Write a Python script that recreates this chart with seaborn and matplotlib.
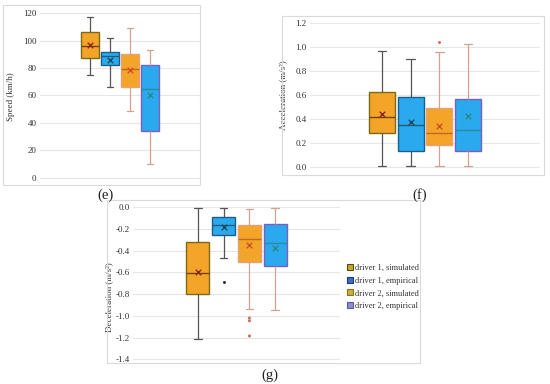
import numpy as np
import pandas as pd
import matplotlib
matplotlib.use("Agg")
import matplotlib.pyplot as plt
from matplotlib.lines import Line2D
from matplotlib.patches import Rectangle
import seaborn as sns

# Box summaries: [lower whisker, q1, median, q3, upper whisker]
groups = ["driver 1, simulated", "driver 1, empirical",
          "driver 2, simulated", "driver 2, empirical"]

speed_lo = [75, 66, 49, 10]
speed_q1 = [87, 82, 66, 34]
speed_med = [96, 89, 79, 65]
speed_q3 = [106.5, 92, 90, 82]
speed_hi = [117, 102, 109, 93]
speed_mean = [97, 86, 78.5, 60]
speed_out = [[], [], [], []]

acc_lo = [0.005, 0.01, 0.005, 0.01]
acc_q1 = [0.285, 0.135, 0.18, 0.13]
acc_med = [0.42, 0.35, 0.28, 0.31]
acc_q3 = [0.625, 0.585, 0.495, 0.565]
acc_hi = [0.97, 0.90, 0.96, 1.03]
acc_mean = [0.445, 0.375, 0.34, 0.425]
acc_out = [[], [], [1.04], []]

dec_lo = [-1.215, -0.465, -0.94, -0.945]
dec_q1 = [-0.795, -0.252, -0.50, -0.54]
dec_med = [-0.605, -0.16, -0.288, -0.332]
dec_q3 = [-0.317, -0.085, -0.163, -0.151]
dec_hi = [-0.005, -0.005, -0.02, -0.005]
dec_mean = [-0.595, -0.185, -0.348, -0.378]
dec_out = [[], [-0.685], [-1.02, -1.045, -1.185], []]

# styling per group
fills = ["#F2A528", "#2AA9EE", "#F2A528", "#2AA9EE"]
edges = ["#7D6A14", "#1B5E8C", "#E3A27A", "#7B5FC0"]
medians = ["#7A3E10", "#1B5E7C", "#C8661A", "#2A8C9C"]
whiskers = ["#555555", "#555555", "#D4A090", "#D4A090"]
means_c = ["#8B2A1A", "#1F4A5A", "#D0502A", "#2A8A8A"]
out_c = ["#333333", "#333333", "#D07060", "#D07060"]
leg_face = ["#C8A828", "#3A6FC8", "#C8B040", "#8C8CD0"]
leg_edge = ["#5A4A10", "#1A3A70", "#8A7020", "#5A5A9A"]

sns.set_style("whitegrid", {"grid.color": "#E6E6E6"})
plt.rcParams["font.family"] = ["Liberation Serif", "DejaVu Serif"]
plt.rcParams["axes.unicode_minus"] = False

W, H = 550, 384
fig = plt.figure(figsize=(5.5, 3.84), dpi=100)


def px_axes(x0, x1, y0, y1):
    return fig.add_axes([x0 / W, 1 - y1 / H, (x1 - x0) / W, (y1 - y0) / H])


def panel(ax, lo, q1, med, q3, hi, mean, outs, ylim, ticks, fmt, ylabel, lab_xy):
    rows = []
    for i, g in enumerate(groups):
        for v in [lo[i], q1[i], med[i], q3[i], hi[i]]:
            rows.append({"group": g, "value": v})
    df = pd.DataFrame(rows)
    for i, g in enumerate(groups):
        sns.boxplot(data=df[df["group"] == g], x="group", y="value", order=groups,
                    ax=ax, color=fills[i], linecolor=edges[i], width=0.9,
                    whis=(0, 100), linewidth=1.0, saturation=1,
                    medianprops={"color": medians[i], "linewidth": 1.0},
                    whiskerprops={"color": whiskers[i], "linewidth": 0.9},
                    capprops={"color": whiskers[i], "linewidth": 0.9},
                    capwidths=0.3)
    mdf = pd.DataFrame({"group": groups, "mean": mean})
    sns.stripplot(data=mdf, x="group", y="mean", order=groups, hue="group",
                  palette=dict(zip(groups, means_c)), jitter=False, marker="x",
                  s=4, linewidth=1.0, legend=False, ax=ax)
    orows = [{"group": g, "v": v} for i, g in enumerate(groups) for v in outs[i]]
    if orows:
        odf = pd.DataFrame(orows)
        sns.stripplot(data=odf, x="group", y="v", order=groups, hue="group",
                      palette=dict(zip(groups, out_c)), jitter=False, s=2.2,
                      legend=False, ax=ax)
    ax.set_xlim(-2.5, 5.5)
    ax.set_ylim(*ylim)
    ax.set_yticks(ticks)
    ax.set_yticklabels([fmt.format(t) for t in ticks])
    ax.set_xticks([])
    ax.set_xlabel("")
    ax.set_ylabel(ylabel, fontsize=6.5, color="#333333")
    ax.yaxis.set_label_coords(*lab_xy)
    ax.tick_params(axis="y", length=0, pad=2.5, labelsize=6.5, labelcolor="#333333")
    ax.grid(axis="x", visible=False)
    ax.grid(axis="y", color="#E6E6E6", linewidth=0.8)
    for s in ax.spines.values():
        s.set_visible(False)


ax_e = px_axes(40, 200, 10.5, 181.8)
panel(ax_e, speed_lo, speed_q1, speed_med, speed_q3, speed_hi, speed_mean, speed_out,
      (-3, 122), [0, 20, 40, 60, 80, 100, 120], "{:.0f}", "Speed (km/h)", (-0.156, 0.5))

ax_f = px_axes(310, 540, 21.0, 169.1)
panel(ax_f, acc_lo, acc_q1, acc_med, acc_q3, acc_hi, acc_mean, acc_out,
      (-0.02, 1.22), [0.0, 0.2, 0.4, 0.6, 0.8, 1.0, 1.2], "{:.1f}",
      "Acceleration (m/s²)", (-0.1, 0.5))

ax_g = px_axes(133, 340, 205.1, 361.5)
panel(ax_g, dec_lo, dec_q1, dec_med, dec_q3, dec_hi, dec_mean, dec_out,
      (-1.42, 0.02), [0.0, -0.2, -0.4, -0.6, -0.8, -1.0, -1.2, -1.4], "{:.1f}",
      "Deceleration (m/s²)", (-0.097, 0.41))

# panel frames
for x0, y0, x1, y1 in [(3, 5, 200, 185), (282, 16, 544, 175), (107, 200, 420, 363)]:
    fig.add_artist(Rectangle((x0 / W, 1 - y1 / H), (x1 - x0) / W, (y1 - y0) / H,
                             transform=fig.transFigure, fill=False,
                             edgecolor="#DADADA", linewidth=0.8))

# panel letters
for txt, x, y in [("(e)", 105, 195), ("(f)", 420, 195), ("(g)", 270, 375)]:
    fig.text(x / W, 1 - y / H, txt, ha="center", va="center", fontsize=10.5, color="#222222")

handles = [Line2D([], [], ls="", marker="s", markersize=4.5, markerfacecolor=leg_face[i],
                  markeredgecolor=leg_edge[i], markeredgewidth=0.8) for i in range(4)]
fig.legend(handles, groups, loc="upper left", bbox_to_anchor=(343 / W, 1 - 260 / H),
           frameon=False, fontsize=6.0, handlelength=0.6, handletextpad=0.3,
           labelspacing=0.55, borderpad=0, labelcolor="#333333")

fig.savefig("out.png", dpi=100)
